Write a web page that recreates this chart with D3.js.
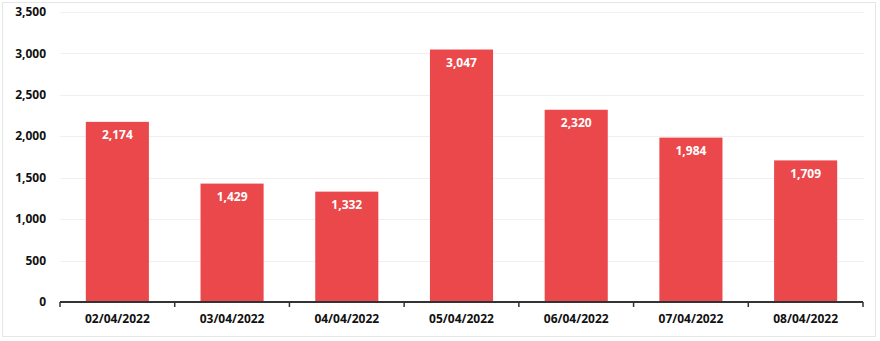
<!DOCTYPE html>
<html>
<head>
<meta charset="utf-8">
<script src="https://cdn.jsdelivr.net/npm/d3@7"></script>
<style>
  body { margin: 0; background: #fff; }
  svg text { font-family: "Open Sans", "DejaVu Sans", sans-serif; font-weight: bold; }
</style>
</head>
<body>
<div id="chart"></div>
<script>
// chart data
var dates = ["02/04/2022", "03/04/2022", "04/04/2022", "05/04/2022", "06/04/2022", "07/04/2022", "08/04/2022"];
var counts = [2174, 1429, 1332, 3047, 2320, 1984, 1709];
var yTicks = [0, 500, 1000, 1500, 2000, 2500, 3000, 3500];

var width = 880;
var height = 341;

var plotLeft = 60;
var plotRight = 863;
var plotTop = 12;
var plotBottom = 302;

var svg = d3
  .select("#chart")
  .append("svg")
  .attr("width", width)
  .attr("height", height);

// outer frame
svg.append("rect")
  .attr("x", 2.5)
  .attr("y", 2.5)
  .attr("width", 873)
  .attr("height", 334)
  .attr("fill", "#fff")
  .attr("stroke", "#e6e6e6");

var xScale = d3.scaleBand()
  .domain(dates)
  .range([plotLeft, plotRight])
  .paddingInner(0.45)
  .paddingOuter(0.225);

var xBand = d3.scaleBand()
  .domain(dates)
  .range([plotLeft, plotRight]);

var yScale = d3.scaleLinear()
  .domain([0, 3500])
  .range([plotBottom, plotTop]);

// gridlines
svg.append("g")
  .selectAll("line")
  .data(yTicks.slice(1))
  .enter()
  .append("line")
  .attr("x1", plotLeft)
  .attr("x2", plotRight + 1)
  .attr("y1", function(d) { return Math.round(yScale(d)) + 0.5; })
  .attr("y2", function(d) { return Math.round(yScale(d)) + 0.5; })
  .attr("stroke", "#f0f0f0");

// y labels
svg.append("g")
  .selectAll("text")
  .data(yTicks)
  .enter()
  .append("text")
  .attr("x", 46)
  .attr("y", function(d) { return yScale(d); })
  .attr("dy", "0.35em")
  .attr("text-anchor", "end")
  .attr("font-size", 12)
  .attr("fill", "#111")
  .text(function(d) { return d3.format(",")(d); });

// bars
svg.append("g")
  .selectAll("rect")
  .data(counts)
  .enter()
  .append("rect")
  .attr("x", function(d, i) { return xScale(dates[i]); })
  .attr("y", function(d) { return yScale(d); })
  .attr("width", xScale.bandwidth())
  .attr("height", function(d) { return plotBottom - yScale(d); })
  .attr("fill", "#ea484b");

// value labels
svg.append("g")
  .selectAll("text")
  .data(counts)
  .enter()
  .append("text")
  .attr("x", function(d, i) { return xScale(dates[i]) + xScale.bandwidth() / 2; })
  .attr("y", function(d) { return yScale(d) + 13; })
  .attr("dy", "0.35em")
  .attr("text-anchor", "middle")
  .attr("font-size", 12)
  .attr("fill", "#fff")
  .text(function(d) { return d3.format(",")(d); });

// x axis
var xAxis = d3.axisBottom(xBand).tickSize(0).tickPadding(12);
var gx = svg.append("g")
  .attr("transform", "translate(0," + plotBottom + ")")
  .call(xAxis);
gx.select(".domain").attr("stroke", "#333").attr("stroke-width", 2).attr("d", "M" + plotLeft + ",0H" + plotRight);
gx.selectAll("text").attr("font-size", 12).attr("fill", "#111").attr("font-family", null);

// tick marks at band edges
svg.append("g")
  .selectAll("line")
  .data(dates.concat(["end"]))
  .enter()
  .append("line")
  .attr("x1", function(d, i) { return i < dates.length ? xBand(d) : plotRight; })
  .attr("x2", function(d, i) { return i < dates.length ? xBand(d) : plotRight; })
  .attr("y1", plotBottom)
  .attr("y2", plotBottom + 5)
  .attr("stroke", "#333")
  .attr("stroke-width", 1.5);
</script>
</body>
</html>
